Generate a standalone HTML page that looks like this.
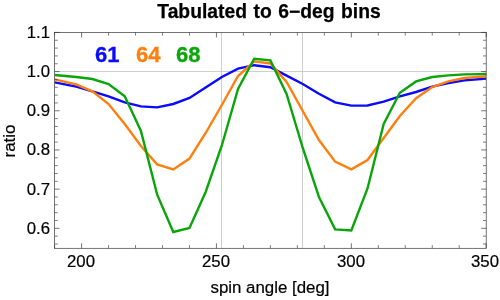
<!DOCTYPE html>
<html><head><meta charset="utf-8"><style>
html,body{margin:0;padding:0;background:#fff;}
body{width:500px;height:300px;position:relative;overflow:hidden;font-family:"Liberation Sans",sans-serif;color:#000;}
svg{position:absolute;left:0;top:0;}
.title{position:absolute;left:-0.8px;width:540px;text-align:center;top:0.8px;font-weight:bold;font-size:19.3px;word-spacing:1.2px;-webkit-text-stroke:0.25px #000;line-height:22px;white-space:nowrap;}
.xl{position:absolute;width:60px;text-align:center;top:251.6px;font-size:16.8px;-webkit-text-stroke:0.2px #000;line-height:20px;}
.yl{position:absolute;width:50.1px;left:0;text-align:right;font-size:16.8px;-webkit-text-stroke:0.2px #000;line-height:20px;}
.xlab{position:absolute;left:170px;width:200px;text-align:center;top:278.4px;font-size:16.85px;-webkit-text-stroke:0.2px #000;line-height:20px;white-space:nowrap;}
.ylab{position:absolute;left:-40.5px;top:130.8px;-webkit-text-stroke:0.2px #000;width:100px;height:20px;text-align:center;font-size:16.9px;line-height:20px;transform:rotate(-90deg);will-change:transform;transform-origin:center center;white-space:nowrap;}
.lg{position:absolute;top:43px;font-weight:bold;font-size:22px;-webkit-text-stroke:0.3px currentColor;line-height:24px;}
.title,.xl,.yl,.xlab,.lg{will-change:transform;}
</style></head><body>
<svg width="500" height="300" viewBox="0 0 500 300">
<g stroke="#c2c2c2" stroke-width="0.8" fill="none">
<line x1="221.5" y1="32.40" x2="221.5" y2="248.30"/>
<line x1="302.5" y1="32.40" x2="302.5" y2="248.30"/>
<line x1="54.60" y1="71.5" x2="486.20" y2="71.5"/>
</g>
<defs><clipPath id="c"><rect x="54.60" y="32.40" width="431.60" height="215.90"/></clipPath></defs>
<g clip-path="url(#c)" fill="none" stroke-width="2.4" stroke-linejoin="miter" stroke-linecap="butt">
<path stroke="#0a0aff" d="M54.60 82.40 L76.18 86.60 L92.37 91.40 L108.55 96.40 L124.73 102.40 L140.92 106.40 L157.10 107.40 L173.29 104.00 L189.47 98.00 L205.66 87.50 L221.84 77.00 L238.03 68.60 L254.21 65.20 L270.40 67.20 L286.58 75.60 L302.77 84.00 L318.95 93.80 L335.14 102.40 L351.32 105.60 L367.51 105.50 L383.69 101.60 L399.88 96.40 L416.06 92.00 L432.25 86.60 L448.44 83.00 L464.62 80.40 L480.80 79.00 L486.20 78.60"/>
<path stroke="#ff7f0e" d="M54.60 79.40 L76.18 84.40 L92.37 91.40 L108.55 104.00 L124.73 124.00 L140.92 146.00 L157.10 164.40 L173.29 169.40 L189.47 158.60 L205.66 133.00 L221.84 105.00 L238.03 76.00 L254.21 61.40 L270.40 63.50 L286.58 82.00 L302.77 111.00 L318.95 140.00 L335.14 161.60 L351.32 169.40 L367.51 160.00 L383.69 138.00 L399.88 116.00 L416.06 98.20 L432.25 87.00 L448.44 81.40 L464.62 78.00 L480.80 76.70 L486.20 76.40"/>
<path stroke="#0aa50a" d="M54.60 75.00 L76.18 77.00 L92.37 79.00 L108.55 84.00 L124.73 96.20 L140.92 131.00 L157.10 194.40 L173.29 232.00 L189.47 228.00 L205.66 192.00 L221.84 145.50 L238.03 89.00 L254.21 58.80 L270.40 60.40 L286.58 94.00 L302.77 148.00 L318.95 197.00 L335.14 229.40 L351.32 230.40 L367.51 188.50 L383.69 124.00 L399.88 92.70 L416.06 81.40 L432.25 77.00 L448.44 75.40 L464.62 74.40 L480.80 74.10 L486.20 74.00"/>
</g>
<g stroke="#3a3a3a" stroke-width="0.7" fill="none">
<rect x="54.60" y="32.40" width="431.60" height="215.90"/>
<line x1="54.60" y1="248.30" x2="54.60" y2="245.10" stroke-width="0.65"/>
<line x1="54.60" y1="32.40" x2="54.60" y2="35.60" stroke-width="0.65"/>
<line x1="81.58" y1="248.30" x2="81.58" y2="243.30"/>
<line x1="81.58" y1="32.40" x2="81.58" y2="37.40"/>
<line x1="108.55" y1="248.30" x2="108.55" y2="245.10" stroke-width="0.65"/>
<line x1="108.55" y1="32.40" x2="108.55" y2="35.60" stroke-width="0.65"/>
<line x1="135.52" y1="248.30" x2="135.52" y2="245.10" stroke-width="0.65"/>
<line x1="135.52" y1="32.40" x2="135.52" y2="35.60" stroke-width="0.65"/>
<line x1="162.50" y1="248.30" x2="162.50" y2="245.10" stroke-width="0.65"/>
<line x1="162.50" y1="32.40" x2="162.50" y2="35.60" stroke-width="0.65"/>
<line x1="189.47" y1="248.30" x2="189.47" y2="245.10" stroke-width="0.65"/>
<line x1="189.47" y1="32.40" x2="189.47" y2="35.60" stroke-width="0.65"/>
<line x1="216.45" y1="248.30" x2="216.45" y2="243.30"/>
<line x1="216.45" y1="32.40" x2="216.45" y2="37.40"/>
<line x1="243.42" y1="248.30" x2="243.42" y2="245.10" stroke-width="0.65"/>
<line x1="243.42" y1="32.40" x2="243.42" y2="35.60" stroke-width="0.65"/>
<line x1="270.40" y1="248.30" x2="270.40" y2="245.10" stroke-width="0.65"/>
<line x1="270.40" y1="32.40" x2="270.40" y2="35.60" stroke-width="0.65"/>
<line x1="297.38" y1="248.30" x2="297.38" y2="245.10" stroke-width="0.65"/>
<line x1="297.38" y1="32.40" x2="297.38" y2="35.60" stroke-width="0.65"/>
<line x1="324.35" y1="248.30" x2="324.35" y2="245.10" stroke-width="0.65"/>
<line x1="324.35" y1="32.40" x2="324.35" y2="35.60" stroke-width="0.65"/>
<line x1="351.32" y1="248.30" x2="351.32" y2="243.30"/>
<line x1="351.32" y1="32.40" x2="351.32" y2="37.40"/>
<line x1="378.30" y1="248.30" x2="378.30" y2="245.10" stroke-width="0.65"/>
<line x1="378.30" y1="32.40" x2="378.30" y2="35.60" stroke-width="0.65"/>
<line x1="405.27" y1="248.30" x2="405.27" y2="245.10" stroke-width="0.65"/>
<line x1="405.27" y1="32.40" x2="405.27" y2="35.60" stroke-width="0.65"/>
<line x1="432.25" y1="248.30" x2="432.25" y2="245.10" stroke-width="0.65"/>
<line x1="432.25" y1="32.40" x2="432.25" y2="35.60" stroke-width="0.65"/>
<line x1="459.22" y1="248.30" x2="459.22" y2="245.10" stroke-width="0.65"/>
<line x1="459.22" y1="32.40" x2="459.22" y2="35.60" stroke-width="0.65"/>
<line x1="486.20" y1="248.30" x2="486.20" y2="243.30"/>
<line x1="486.20" y1="32.40" x2="486.20" y2="37.40"/>
<line x1="54.60" y1="243.99" x2="57.80" y2="243.99" stroke-width="0.65"/>
<line x1="486.20" y1="243.99" x2="483.00" y2="243.99" stroke-width="0.65"/>
<line x1="54.60" y1="236.16" x2="57.80" y2="236.16" stroke-width="0.65"/>
<line x1="486.20" y1="236.16" x2="483.00" y2="236.16" stroke-width="0.65"/>
<line x1="54.60" y1="228.32" x2="59.60" y2="228.32"/>
<line x1="486.20" y1="228.32" x2="481.20" y2="228.32"/>
<line x1="54.60" y1="220.48" x2="57.80" y2="220.48" stroke-width="0.65"/>
<line x1="486.20" y1="220.48" x2="483.00" y2="220.48" stroke-width="0.65"/>
<line x1="54.60" y1="212.65" x2="57.80" y2="212.65" stroke-width="0.65"/>
<line x1="486.20" y1="212.65" x2="483.00" y2="212.65" stroke-width="0.65"/>
<line x1="54.60" y1="204.81" x2="57.80" y2="204.81" stroke-width="0.65"/>
<line x1="486.20" y1="204.81" x2="483.00" y2="204.81" stroke-width="0.65"/>
<line x1="54.60" y1="196.98" x2="57.80" y2="196.98" stroke-width="0.65"/>
<line x1="486.20" y1="196.98" x2="483.00" y2="196.98" stroke-width="0.65"/>
<line x1="54.60" y1="189.14" x2="59.60" y2="189.14"/>
<line x1="486.20" y1="189.14" x2="481.20" y2="189.14"/>
<line x1="54.60" y1="181.30" x2="57.80" y2="181.30" stroke-width="0.65"/>
<line x1="486.20" y1="181.30" x2="483.00" y2="181.30" stroke-width="0.65"/>
<line x1="54.60" y1="173.47" x2="57.80" y2="173.47" stroke-width="0.65"/>
<line x1="486.20" y1="173.47" x2="483.00" y2="173.47" stroke-width="0.65"/>
<line x1="54.60" y1="165.63" x2="57.80" y2="165.63" stroke-width="0.65"/>
<line x1="486.20" y1="165.63" x2="483.00" y2="165.63" stroke-width="0.65"/>
<line x1="54.60" y1="157.80" x2="57.80" y2="157.80" stroke-width="0.65"/>
<line x1="486.20" y1="157.80" x2="483.00" y2="157.80" stroke-width="0.65"/>
<line x1="54.60" y1="149.96" x2="59.60" y2="149.96"/>
<line x1="486.20" y1="149.96" x2="481.20" y2="149.96"/>
<line x1="54.60" y1="142.12" x2="57.80" y2="142.12" stroke-width="0.65"/>
<line x1="486.20" y1="142.12" x2="483.00" y2="142.12" stroke-width="0.65"/>
<line x1="54.60" y1="134.29" x2="57.80" y2="134.29" stroke-width="0.65"/>
<line x1="486.20" y1="134.29" x2="483.00" y2="134.29" stroke-width="0.65"/>
<line x1="54.60" y1="126.45" x2="57.80" y2="126.45" stroke-width="0.65"/>
<line x1="486.20" y1="126.45" x2="483.00" y2="126.45" stroke-width="0.65"/>
<line x1="54.60" y1="118.62" x2="57.80" y2="118.62" stroke-width="0.65"/>
<line x1="486.20" y1="118.62" x2="483.00" y2="118.62" stroke-width="0.65"/>
<line x1="54.60" y1="110.78" x2="59.60" y2="110.78"/>
<line x1="486.20" y1="110.78" x2="481.20" y2="110.78"/>
<line x1="54.60" y1="102.94" x2="57.80" y2="102.94" stroke-width="0.65"/>
<line x1="486.20" y1="102.94" x2="483.00" y2="102.94" stroke-width="0.65"/>
<line x1="54.60" y1="95.11" x2="57.80" y2="95.11" stroke-width="0.65"/>
<line x1="486.20" y1="95.11" x2="483.00" y2="95.11" stroke-width="0.65"/>
<line x1="54.60" y1="87.27" x2="57.80" y2="87.27" stroke-width="0.65"/>
<line x1="486.20" y1="87.27" x2="483.00" y2="87.27" stroke-width="0.65"/>
<line x1="54.60" y1="79.44" x2="57.80" y2="79.44" stroke-width="0.65"/>
<line x1="486.20" y1="79.44" x2="483.00" y2="79.44" stroke-width="0.65"/>
<line x1="54.60" y1="71.60" x2="59.60" y2="71.60"/>
<line x1="486.20" y1="71.60" x2="481.20" y2="71.60"/>
<line x1="54.60" y1="63.76" x2="57.80" y2="63.76" stroke-width="0.65"/>
<line x1="486.20" y1="63.76" x2="483.00" y2="63.76" stroke-width="0.65"/>
<line x1="54.60" y1="55.93" x2="57.80" y2="55.93" stroke-width="0.65"/>
<line x1="486.20" y1="55.93" x2="483.00" y2="55.93" stroke-width="0.65"/>
<line x1="54.60" y1="48.09" x2="57.80" y2="48.09" stroke-width="0.65"/>
<line x1="486.20" y1="48.09" x2="483.00" y2="48.09" stroke-width="0.65"/>
<line x1="54.60" y1="40.26" x2="57.80" y2="40.26" stroke-width="0.65"/>
<line x1="486.20" y1="40.26" x2="483.00" y2="40.26" stroke-width="0.65"/>
<line x1="54.60" y1="32.42" x2="59.60" y2="32.42"/>
<line x1="486.20" y1="32.42" x2="481.20" y2="32.42"/>
</g>
</svg>
<div class="title">Tabulated to 6&#8722;deg bins</div>
<div class="lg" style="left:95.2px;color:#0a0aff">61</div>
<div class="lg" style="left:135.6px;color:#ff7f0e">64</div>
<div class="lg" style="left:175.9px;color:#0aa50a">68</div>
<div class="xl" style="left:50.78px">200</div><div class="xl" style="left:185.65px">250</div><div class="xl" style="left:320.52px">300</div><div class="xl" style="left:455.40px">350</div>
<div class="yl" style="top:218.82px">0.6</div><div class="yl" style="top:179.64px">0.7</div><div class="yl" style="top:140.46px">0.8</div><div class="yl" style="top:101.28px">0.9</div><div class="yl" style="top:62.10px">1.0</div><div class="yl" style="top:22.92px">1.1</div>
<div class="xlab">spin angle [deg]</div>
<div class="ylab">ratio</div>
</body></html>
